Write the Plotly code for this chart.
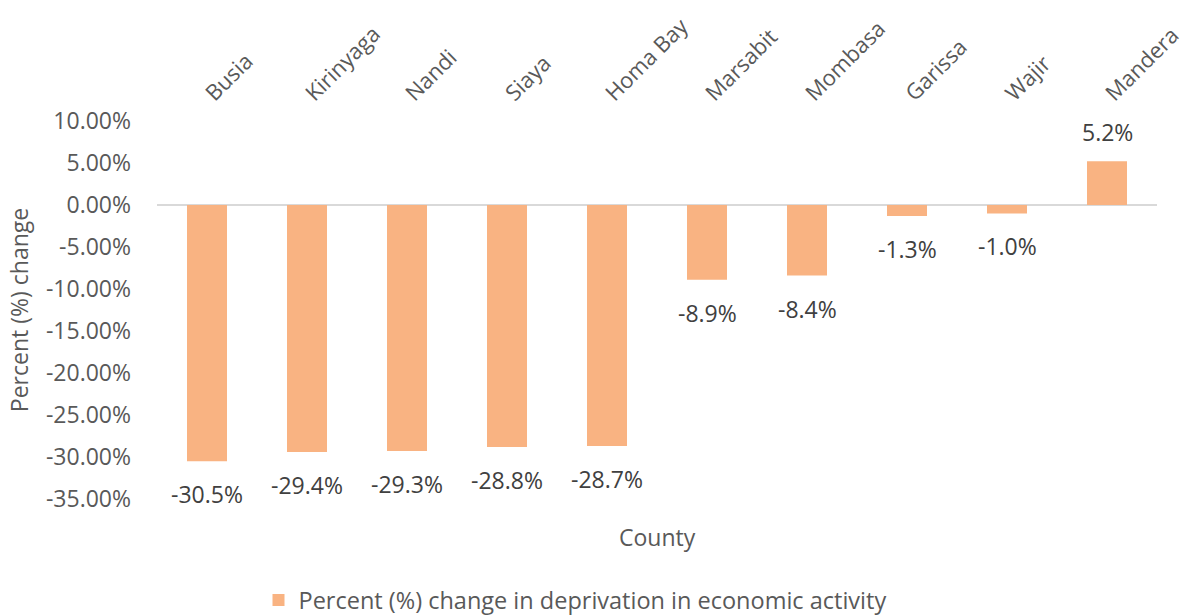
import plotly.graph_objects as go

counties = ["Busia", "Kirinyaga", "Nandi", "Siaya", "Homa Bay",
            "Marsabit", "Mombasa", "Garissa", "Wajir", "Mandera"]
pct_change = [-30.5, -29.4, -29.3, -28.8, -28.7, -8.9, -8.4, -1.3, -1.0, 5.2]
y_ticks = [10, 5, 0, -5, -10, -15, -20, -25, -30, -35]

series_name = "Percent (%) change in deprivation in economic activity"
bar_color = "#F9B382"
font_family = "Open Sans, sans-serif"
text_grey = "#595959"
label_grey = "#404040"
fs = 23

fig = go.Figure()
fig.add_trace(go.Bar(
    x=counties,
    y=pct_change,
    name=series_name,
    marker=dict(color=bar_color, line=dict(width=0)),
    showlegend=True,
))

# value labels beyond the end of each bar
for c, v in zip(counties, pct_change):
    fig.add_annotation(
        x=c, y=v, xref="x", yref="y",
        text=f"{v:.1f}%",
        showarrow=False,
        yshift=29 if v >= 0 else -33,
        font=dict(family=font_family, size=fs, color=label_grey),
    )

# axis title sits below the plot while category labels are on top
fig.add_annotation(
    x=0.5, y=-35, xref="paper", yref="y",
    text="County", showarrow=False, yshift=-38,
    font=dict(family=font_family, size=fs, color=text_grey),
)

fig.update_layout(
    width=1186, height=615,
    margin=dict(l=157, r=29, t=121, b=116, autoexpand=False),
    plot_bgcolor="white",
    paper_bgcolor="white",
    font=dict(family=font_family, size=fs, color=text_grey),
    bargap=0.6,
    legend=dict(
        orientation="h",
        xref="paper", x=0.418, xanchor="center",
        yref="container", y=0.024, yanchor="middle",
        font=dict(family=font_family, size=23.5, color=text_grey),
        itemwidth=30,
    ),
    xaxis=dict(
        side="top",
        tickangle=-45,
        showgrid=False,
        showline=False,
        zeroline=False,
        ticks="",
        ticklabelstandoff=10,
        tickfont=dict(family=font_family, size=22, color=text_grey),
    ),
    yaxis=dict(
        range=[-35, 10],
        tickvals=y_ticks,
        ticktext=[f"{t:.2f}%" for t in y_ticks],
        showgrid=False,
        showline=False,
        zeroline=True,
        zerolinecolor="#D9D9D9",
        zerolinewidth=2,
        ticks="",
        ticklabelstandoff=25,
        tickfont=dict(family=font_family, size=fs, color=text_grey),
        title=dict(text="Percent (%) change", standoff=10,
                   font=dict(family=font_family, size=fs, color=text_grey)),
    ),
)

fig.write_html("out.html")
